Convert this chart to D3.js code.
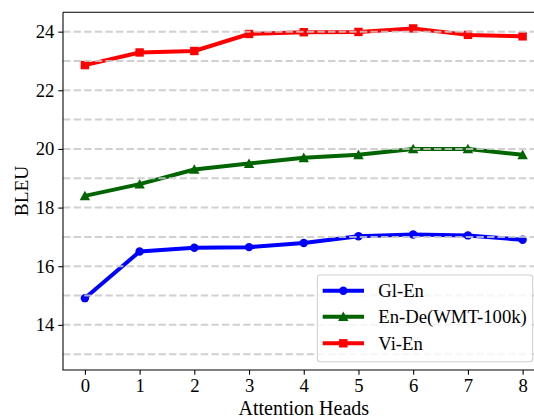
<!DOCTYPE html>
<html><head><meta charset="utf-8">
<script src="https://cdn.jsdelivr.net/npm/d3@7"></script>
<style>
html,body{margin:0;padding:0;background:#fff;}
svg{display:block;}
</style></head>
<body>
<svg id="chart" width="534" height="418"></svg>
<script>
const heads = [0,1,2,3,4,5,6,7,8];
const glEn = [14.91,16.50,16.63,16.65,16.79,17.02,17.08,17.05,16.90];
const enDe = [18.40,18.80,19.30,19.50,19.70,19.80,20.00,20.00,19.80];
const viEn = [22.86,23.29,23.34,23.92,23.98,23.99,24.11,23.89,23.84];
const seriesNames = ["Gl-En","En-De(WMT-100k)","Vi-En"];
const seriesColors = ["#0000ff","#006400","#ff0000"];
const seriesMarkers = ["circle","triangle","square"];
const yTicks = [14,16,18,20,22,24];
const gridValues = [13,14,15,16,17,18,19,20,21,22,23,24];

const svg = d3.select("#chart");
const L = 63, R = 544.5, T = 12.3, B = 370;
const x = d3.scaleLinear().domain([-0.4, 8.4]).range([L, R]);
const y = d3.scaleLinear().domain([12.46, 24.66]).range([B, T]);
const FS = "18.67px";
const FF = "'Liberation Serif','Times New Roman',serif";

const allSeries = [glEn, enDe, viEn];

// lines
const line = d3.line().x((d,i)=>x(heads[i])).y(d=>y(d));
allSeries.forEach((vals, k) => {
  svg.append("path").datum(vals).attr("d", line)
    .attr("fill","none").attr("stroke", seriesColors[k])
    .attr("stroke-width", 4).attr("stroke-linejoin","round");
});

function marker(g, type, cx, cy, color) {
  if (type === "circle") {
    g.append("circle").attr("cx",cx).attr("cy",cy).attr("r",4.2).attr("fill",color);
  } else if (type === "square") {
    g.append("rect").attr("x",cx-4.2).attr("y",cy-4.2).attr("width",8.4).attr("height",8.4).attr("fill",color);
  } else {
    const s = 5.2;
    g.append("path").attr("d",`M${cx},${cy-s}L${cx+s},${cy+s*0.85}L${cx-s},${cy+s*0.85}Z`).attr("fill",color);
  }
}
allSeries.forEach((vals, k) => {
  const g = svg.append("g");
  vals.forEach((v,i)=> marker(g, seriesMarkers[k], x(heads[i]), y(v), seriesColors[k]));
});

// grid on top
svg.append("g").selectAll("line").data(gridValues).join("line")
  .attr("x1", L).attr("x2", R).attr("y1", d=>y(d)).attr("y2", d=>y(d))
  .attr("stroke","#c8c8c8").attr("stroke-opacity",0.85).attr("stroke-width",2)
  .attr("stroke-dasharray","7.4,3.2");

// axes
const xAxis = svg.append("g").attr("transform",`translate(0,${B})`)
  .call(d3.axisBottom(x).tickValues(heads).tickFormat(d3.format("d")).tickSize(4.7).tickPadding(4));
const yAxis = svg.append("g").attr("transform",`translate(${L},0)`)
  .call(d3.axisLeft(y).tickValues(yTicks).tickFormat(d3.format("d")).tickSize(4.7).tickPadding(4));
[xAxis,yAxis].forEach(a=>{
  a.attr("font-family", FF).attr("font-size", FS);
  a.select(".domain").remove();
  a.selectAll(".tick line").attr("stroke","#000").attr("stroke-width",1.07);
  a.selectAll(".tick text").style("font-size",FS).style("font-family",FF).attr("fill","#000");
});
// spines
svg.append("path").attr("d",`M${L},${T}V${B}H${R}M${L},${T}H${R}`)
  .attr("fill","none").attr("stroke","#000").attr("stroke-width",1.07);

// labels
svg.append("text").attr("x",303.8).attr("y",415).attr("text-anchor","middle")
  .style("font-size","20px").style("font-family",FF).text("Attention Heads");
svg.append("text").attr("transform",`translate(27.5,191) rotate(-90)`).attr("text-anchor","middle")
  .style("font-size","19.3px").style("font-family",FF).text("BLEU");

// legend
const lg = svg.append("g");
lg.append("rect").attr("x",317.3).attr("y",275).attr("width",215.4).attr("height",86.7)
  .attr("rx",3).attr("fill","#fff").attr("fill-opacity",0.8).attr("stroke","#d0d0d0").attr("stroke-width",1.07);
const legY = [290.7, 316.7, 343.3];
seriesNames.forEach((n,k)=>{
  lg.append("line").attr("x1",322.7).attr("x2",364).attr("y1",legY[k]).attr("y2",legY[k])
    .attr("stroke",seriesColors[k]).attr("stroke-width",4);
  marker(lg, seriesMarkers[k], 343.3, legY[k], seriesColors[k]);
  lg.append("text").attr("x",378.3).attr("y",legY[k]).attr("dy","0.35em")
    .style("font-size",FS).style("font-family",FF).text(n);
});
</script>
</body></html>
